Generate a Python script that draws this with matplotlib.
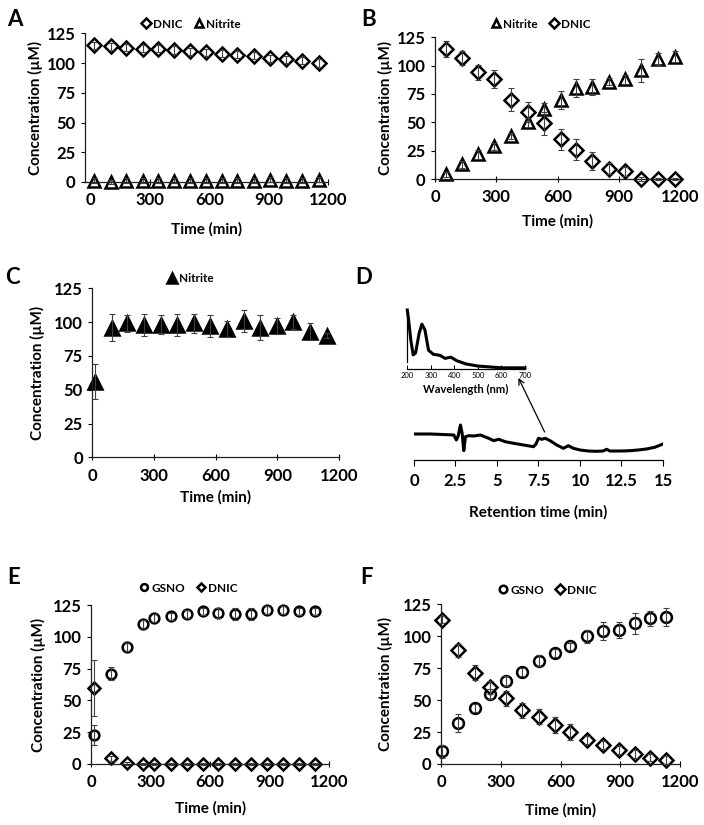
import matplotlib
matplotlib.use("Agg")
import matplotlib.pyplot as plt

plt.rcParams['font.family'] = ['Lato', 'DejaVu Sans']
plt.rcParams['font.weight'] = 'bold'

# ---------------- data ----------------
# Panel A
a_time = [17, 100, 180, 262, 342, 420, 502, 584, 662, 742, 828, 908, 987, 1070, 1153]
a_dnic = [115, 114, 113, 112, 112, 111, 110, 109, 108, 107, 106, 104, 103, 102, 100]
a_dnic_err = [3, 3, 3, 3, 3, 3, 3, 3, 3, 3, 3, 3, 3, 3, 3]
a_nitrite = [1, 0, 1, 1, 1, 1, 1, 1, 1, 1, 1, 2, 1, 1, 2]
a_nitrite_err = [2, 2, 2, 2, 2, 2, 2, 2, 2, 2, 2, 2, 2, 2, 2]

# Panel B
b_time = [54, 133, 210, 289, 374, 456, 535, 617, 691, 771, 850, 932, 1010, 1092, 1174]
b_nitrite = [4, 13, 22, 29, 38, 50, 62, 70, 80, 81, 86, 88, 96, 106, 108]
b_nitrite_err = [2, 3, 4, 3, 3, 4, 5, 8, 8, 7, 3, 4, 10, 5, 5]
b_dnic = [115, 107, 94, 88, 70, 59, 49, 35, 26, 16, 9, 7, 0, 0, 0]
b_dnic_err = [7, 6, 7, 8, 10, 9, 10, 9, 9, 8, 5, 4, 2, 1, 1]

# Panel C
c_time = [11, 95, 166, 250, 332, 413, 494, 572, 653, 738, 816, 897, 977, 1058, 1140]
c_nitrite = [56, 96, 99, 98, 98, 98, 99, 97, 95, 101, 96, 97, 100, 93, 90]
c_nitrite_err = [13, 10, 6, 8, 7, 8, 7, 8, 6, 8, 9, 6, 5, 6, 2]

# Panel D : chromatogram
d_rt = [0, 1.0, 2.0, 2.4, 2.55, 2.65, 2.8, 2.9, 3.0, 3.1, 3.3, 3.6, 4.0, 4.5, 4.8, 5.1,
        5.5, 6.0, 6.6, 7.2, 7.35, 7.5, 7.7, 7.9, 8.2, 8.6, 9.0, 9.3, 9.6, 10.0, 10.5,
        11.0, 11.4, 11.6, 11.8, 12.5, 13.0, 13.5, 14.0, 14.5, 15.0]
d_signal = [26, 26, 25.3, 25, 20, 23.3, 35, 26.7, 9.3, 23.3, 24.3, 24, 25, 21.7, 19.3, 20.7,
            18.3, 16.7, 15, 13.3, 16, 21.7, 20.7, 21.7, 19.3, 15, 11.7, 14.3, 11.7, 10, 9,
            8.7, 9, 10.7, 9, 9, 9.3, 10, 11, 12.7, 16]
# Panel D inset : UV-vis spectrum
d_wl = [200, 205, 215, 225, 235, 250, 262, 275, 290, 310, 340, 360, 385, 410, 450, 500, 550, 600, 700]
d_abs = [1.0, 0.85, 0.49, 0.24, 0.27, 0.6, 0.76, 0.66, 0.32, 0.25, 0.23, 0.18, 0.2, 0.14,
         0.085, 0.05, 0.035, 0.02, 0.02]

# Panel E
e_time = [17, 101, 180, 260, 317, 401, 481, 562, 640, 725, 804, 884, 968, 1049, 1128]
e_gsno = [23, 71, 92, 110, 115, 116, 118, 120, 119, 118, 118, 121, 121, 120, 120]
e_gsno_err = [8, 5, 3, 3, 3, 3, 3, 3, 4, 5, 5, 3, 3, 3, 3]
e_dnic = [60, 4.5, 0.5, 0, 0, 0, 0, 0, 0, 0, 0, 0, 0, 0, 0]
e_dnic_err = [22, 2, 1, 1, 1, 1, 1, 1, 1, 1, 1, 1, 1, 1, 1]

# Panel F
f_time = [5, 85, 169, 247, 327, 409, 490, 570, 648, 732, 811, 892, 972, 1051, 1131]
f_gsno = [10, 32, 44, 55, 65, 72, 81, 87, 92, 100, 104, 105, 110, 114, 115]
f_gsno_err = [5, 7, 3, 4, 4, 3, 4, 3, 3, 5, 7, 6, 8, 6, 7]
f_dnic = [113, 89, 71.5, 60, 51.4, 42, 37, 30.5, 25, 19, 15, 11, 7.6, 5, 3]
f_dnic_err = [3, 5, 6, 5, 6, 6, 6, 6, 6, 3, 3, 3, 3, 3, 3]

y_ticks = [0, 25, 50, 75, 100, 125]
x_ticks = [0, 300, 600, 900, 1200]
d_ticks = [0, 2.5, 5, 7.5, 10, 12.5, 15]
d_ticklabels = ['0', '2.5', '5', '7.5', '10', '12.5', '15']
inset_ticks = [200, 300, 400, 500, 600, 700]

# ---------------- layout helpers ----------------
W, H = 704, 825
fig = plt.figure(figsize=(W / 100, H / 100), dpi=100)
fig.patch.set_facecolor('white')

def px_axes(l, r, b, t):
    return fig.add_axes([l / W, 1 - b / H, (r - l) / W, (b - t) / H])

TICK_FS = 12
LAB_FS = 11
ERR_C = '#404040'
MEW = 1.8

def style_axes(ax, b, t, l, r, xlab_y, ylab_x, xlim=(0, 1200)):
    ax.set_xlim(*xlim)
    ax.set_ylim(0, 125)
    ax.set_xticks(x_ticks)
    ax.set_yticks(y_ticks)
    for s in ['top', 'right']:
        ax.spines[s].set_visible(False)
    for s in ['left', 'bottom']:
        ax.spines[s].set_linewidth(0.9)
        ax.spines[s].set_color('#202020')
    ax.tick_params(axis='x', direction='inout', length=5, width=0.8, labelsize=TICK_FS, pad=5)
    ax.tick_params(axis='y', direction='out', length=3, width=0.8, labelsize=TICK_FS, pad=4)
    for lab in ax.get_xticklabels() + ax.get_yticklabels():
        lab.set_fontweight('bold')
    ax.set_xlabel('Time (min)', fontsize=LAB_FS, fontweight='bold')
    ax.set_ylabel('Concentration (µM)', fontsize=LAB_FS, fontweight='bold')
    hpx = b - t
    wpx = r - l
    ax.xaxis.set_label_coords(0.5, (b - xlab_y) / hpx)
    ax.xaxis.label.set_va('center')
    ax.yaxis.set_label_coords((ylab_x - l) / wpx, 0.5)
    ax.yaxis.label.set_va('center')
    ax.set_facecolor('none')

def series(ax, x, y, err, marker, ms, filled=False, label=None):
    face = 'black' if filled else 'white'
    line, = ax.plot(x, y, linestyle='none', marker=marker, markersize=ms,
                    markerfacecolor=face, markeredgecolor='black', markeredgewidth=MEW,
                    zorder=2, label=label, clip_on=False)
    ax.errorbar(x, y, yerr=err, fmt='none', ecolor=ERR_C, elinewidth=0.8,
                capsize=2.5, capthick=0.8, zorder=3, clip_on=False)
    return line

def legend(ax, handles, cx, cy):
    ax.legend(handles=handles, loc='center', bbox_to_anchor=(cx / W, 1 - cy / H),
              bbox_transform=fig.transFigure, ncol=len(handles), frameon=False,
              handlelength=0.7, handletextpad=0.25, columnspacing=1.0,
              borderpad=0, markerscale=0.7,
              prop={'size': 8.5, 'weight': 'bold'})

def letter(x, y, s):
    fig.text(x / W, 1 - y / H, s, fontsize=16, fontweight='bold', ha='center', va='center')

# ---------------- Panel A ----------------
axA = px_axes(85, 328, 182, 33.3)
style_axes(axA, 182, 33.3, 85, 328, 229, 35, xlim=(-29, 1200))
hA1 = series(axA, a_time, a_dnic, a_dnic_err, 'D', 7.2, label='DNIC')
hA2 = series(axA, a_time, a_nitrite, a_nitrite_err, '^', 9, label='Nitrite')
legend(axA, [hA1, hA2], 191, 24)
letter(15, 19, 'A')

# ---------------- Panel B ----------------
axB = px_axes(435, 680, 179, 37.3)
style_axes(axB, 179, 37.3, 435, 680, 221, 385)
hB1 = series(axB, b_time, b_nitrite, b_nitrite_err, '^', 9, label='Nitrite')
hB2 = series(axB, b_time, b_dnic, b_dnic_err, 'D', 7.2, label='DNIC')
legend(axB, [hB1, hB2], 541, 24)
letter(369, 19, 'B')

# ---------------- Panel C ----------------
axC = px_axes(92.5, 339, 457.3, 288.3)
style_axes(axC, 457.3, 288.3, 92.5, 339, 497, 37)
hC1 = series(axC, c_time, c_nitrite, c_nitrite_err, '^', 10, filled=True, label='Nitrite')
legend(axC, [hC1], 191, 279)
letter(12, 277, 'C')

# ---------------- Panel D ----------------
axD = px_axes(414, 663, 460, 420)
axD.plot(d_rt, d_signal, color='black', linewidth=2.2, solid_joinstyle='round')
axD.set_xlim(0, 15)
axD.set_ylim(0, 40)
axD.set_xticks(d_ticks)
axD.set_xticklabels(d_ticklabels)
axD.set_yticks([])
for s in ['top', 'right', 'left']:
    axD.spines[s].set_visible(False)
axD.spines['bottom'].set_linewidth(0.9)
axD.tick_params(axis='x', direction='out', length=4, width=0.8, labelsize=TICK_FS, pad=5)
for lab in axD.get_xticklabels():
    lab.set_fontweight('bold')
axD.set_xlabel('Retention time (min)', fontsize=LAB_FS, fontweight='bold')
axD.xaxis.set_label_coords(0.5, (460 - 512) / 40)
axD.xaxis.label.set_va('center')
axD.set_facecolor('none')
letter(364, 277, 'D')

# inset
axI = px_axes(407.3, 525, 369, 310)
axI.plot(d_wl, d_abs, color='black', linewidth=2.2, clip_on=False)
axI.set_xlim(200, 700)
axI.set_ylim(0, 1)
axI.set_xticks(inset_ticks)
axI.set_yticks([])
for s in ['top', 'right']:
    axI.spines[s].set_visible(False)
axI.spines['left'].set_bounds(0.12, 1.0)
axI.spines['left'].set_linewidth(0.9)
axI.spines['bottom'].set_linewidth(0.9)
axI.tick_params(axis='x', direction='in', length=3, width=0.7, labelsize=5.5, pad=2)
for lab in axI.get_xticklabels():
    lab.set_fontweight('normal')
axI.set_xlabel('Wavelength (nm)', fontsize=8, fontweight='bold', labelpad=0)
axI.xaxis.set_label_coords(0.5, (369 - 389) / 59)
axI.xaxis.label.set_va('center')
axI.set_facecolor('none')

axD.annotate('', xy=(672, -0.15), xycoords=axI.transData,
             xytext=(7.87, 28), textcoords='data',
             arrowprops=dict(arrowstyle='->', color='black', lw=0.9,
                             shrinkA=0, shrinkB=0),
             annotation_clip=False)

# ---------------- Panel E ----------------
axE = px_axes(91, 329.3, 764, 605)
style_axes(axE, 764, 605, 91, 329.3, 808, 38)
hE1 = series(axE, e_time, e_gsno, e_gsno_err, 'o', 7, label='GSNO')
hE2 = series(axE, e_time, e_dnic, e_dnic_err, 'D', 6.2, label='DNIC')
legend(axE, [hE1, hE2], 189, 588)
letter(14, 578, 'E')

# ---------------- Panel F ----------------
axF = px_axes(441, 680, 764, 604.3)
style_axes(axF, 764, 604.3, 441, 680, 810, 385)
hF1 = series(axF, f_time, f_gsno, f_gsno_err, 'o', 7.8, label='GSNO')
hF2 = series(axF, f_time, f_dnic, f_dnic_err, 'D', 7.2, label='DNIC')
legend(axF, [hF1, hF2], 548, 590)
letter(366, 578, 'F')

fig.savefig('out.png', dpi=100, facecolor='white')
